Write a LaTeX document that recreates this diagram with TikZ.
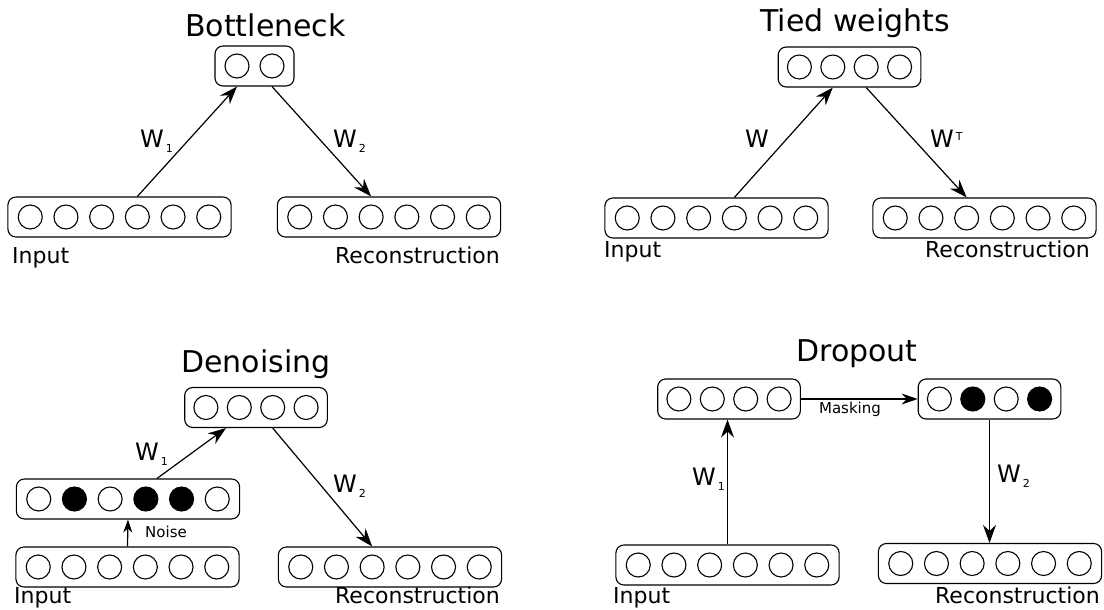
\documentclass[tikz,border=0pt]{standalone}
\usepackage{fontspec}
\setmainfont{DejaVu Sans}
\usetikzlibrary{arrows.meta}

\tikzset{
    layerbox/.style={draw, rounded corners=8pt, line width=1.1pt, minimum height=40pt},
    u0/.style={draw, circle, line width=1.1pt, minimum size=24pt, inner sep=0pt},
    u1/.style={u0, fill=black},
    conn/.style={-{Stealth[length=18pt,width=13pt,inset=6pt]}, line width=1.2pt},
    title/.style={font=\fontsize{30}{36}\selectfont, inner sep=0pt},
    caption/.style={font=\fontsize{22}{26}\selectfont, inner sep=0pt},
    wlabel/.style={font=\fontsize{24}{28}\selectfont, inner sep=0pt},
    small/.style={font=\fontsize{15}{18}\selectfont, inner sep=0pt}
}

% a layer: name, centre, number of units, spacing, list of unit states
\newcommand{\layer}[5]{%
    \node[layerbox, minimum width={#3*#4+9}] (#1) at (#2) {};
    \foreach \f [count=\i] in {#5}
        \node[u\f] (#1-\i) at ([xshift={(\i-(#3+1)/2)*#4}]#1.center) {};
}
\newcommand{\wsub}[1]{W\kern2pt\raisebox{-5pt}{\fontsize{11}{12}\selectfont #1}}
\newcommand{\wsup}[1]{W\kern2pt\raisebox{7pt}{\fontsize{11}{12}\selectfont #1}}

\begin{document}
\begin{tikzpicture}[x=1pt, y=-1pt]
    \useasboundingbox (0,0) rectangle (1104,610);

    % bottleneck
    \node[title, anchor=base] (bnT) at (265.5,37) {Bottleneck};
    \layer{bnHid}{254.5,66}{2}{35}{0,0}
    \layer{bnIn}{119.5,217}{6}{35.7}{0,0,0,0,0,0}
    \layer{bnRec}{389,217}{6}{35.7}{0,0,0,0,0,0}
    \node[caption, anchor=base west] (bnInL) at (12,263) {Input};
    \node[caption, anchor=base east] (bnRecL) at (500,263) {Reconstruction};
    \draw[conn] (bnIn-4 |- bnIn.north) -- (bnHid-1 |- bnHid.south);
    \draw[conn] (bnHid-2 |- bnHid.south) -- (bnRec-3 |- bnRec.north);
    \node[wlabel, anchor=base west] (bnW1) at (140,147) {\wsub{1}};
    \node[wlabel, anchor=base west] (bnW2) at (333,147) {\wsub{2}};

    % tied weights
    \node[title, anchor=base] (twT) at (855,32) {Tied weights};
    \layer{twHid}{849.5,67}{4}{33.4}{0,0,0,0}
    \layer{twIn}{716.5,218}{6}{35.7}{0,0,0,0,0,0}
    \layer{twRec}{984.5,218}{6}{35.7}{0,0,0,0,0,0}
    \node[caption, anchor=base west] (twInL) at (604,257) {Input};
    \node[caption, anchor=base east] (twRecL) at (1090,257) {Reconstruction};
    \draw[conn] (twIn-4 |- twIn.north) -- (twHid-2 |- twHid.south);
    \draw[conn] (twHid-3 |- twHid.south) -- (twRec-3 |- twRec.north);
    \node[wlabel, anchor=base west] (twW) at (745,147) {W};
    \node[wlabel, anchor=base west] (twWT) at (930,147) {\wsup{T}};

    % denoising
    \node[title, anchor=base] (dnT) at (256,372) {Denoising};
    \layer{dnHid}{256,407.5}{4}{33.4}{0,0,0,0}
    \layer{dnNoisy}{128,499}{6}{35.7}{0,1,0,1,1,0}
    \layer{dnIn}{127.5,567}{6}{35.7}{0,0,0,0,0,0}
    \layer{dnRec}{390,567}{6}{35.7}{0,0,0,0,0,0}
    \node[caption, anchor=base west] (dnInL) at (14,603) {Input};
    \node[caption, anchor=base east] (dnRecL) at (500,603) {Reconstruction};
    \draw[conn, -{Stealth[length=13pt,width=9pt,inset=4pt]}] (dnIn.north) -- (dnNoisy.south);
    \node[small, anchor=base west] (dnNoise) at (145,537) {Noise};
    \draw[conn] ([xshift=29pt]dnNoisy.north) -- ([xshift=-30pt]dnHid.south);
    \draw[conn] (dnHid-3 |- dnHid.south) -- (dnRec-3 |- dnRec.north);
    \node[wlabel, anchor=base west] (dnW1) at (135,460) {\wsub{1}};
    \node[wlabel, anchor=base west] (dnW2) at (333,492) {\wsub{2}};

    % dropout
    \node[title, anchor=base] (doT) at (857,361) {Dropout};
    \layer{doHid}{729,399}{4}{33.4}{0,0,0,0}
    \layer{doMask}{989.5,399}{4}{33.4}{0,1,0,1}
    \layer{doIn}{727.5,565}{6}{35.7}{0,0,0,0,0,0}
    \layer{doRec}{990,563.5}{6}{35.7}{0,0,0,0,0,0}
    \node[caption, anchor=base west] (doInL) at (613,603) {Input};
    \node[caption, anchor=base east] (doRecL) at (1100,603) {Reconstruction};
    \draw[conn, -{Stealth[length=16pt,width=11pt,inset=5pt]}] (doHid.east) -- (doMask.west);
    \node[small, anchor=base] (doMasking) at (850,413) {Masking};
    \draw[conn] (doIn.north) -- (doIn.north |- doHid.south);
    \draw[conn] (doMask.south) -- (doMask.south |- doRec.north);
    \node[wlabel, anchor=base west] (doW1) at (692,485) {\wsub{1}};
    \node[wlabel, anchor=base west] (doW2) at (997,482) {\wsub{2}};
\end{tikzpicture}
\end{document}
